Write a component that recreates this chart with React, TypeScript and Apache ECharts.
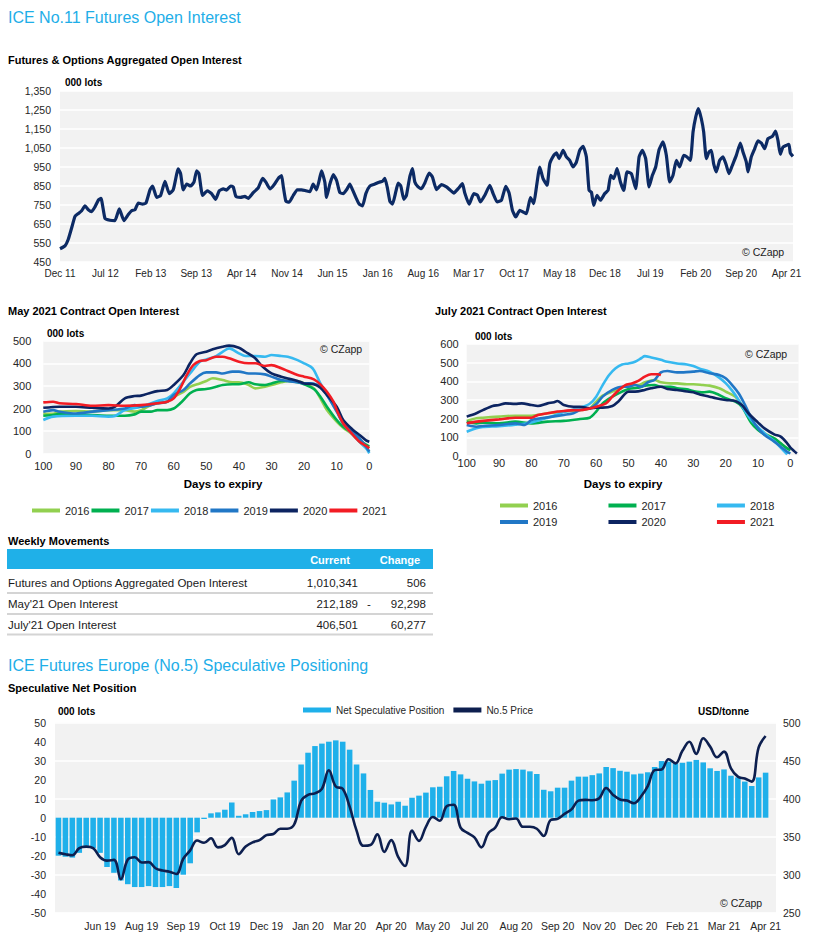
import React, { useEffect, useRef } from 'react';
import * as echarts from 'echarts';

const FONT = '"Liberation Sans", Arial, Helvetica, sans-serif';
const TITLE_BLUE = '#1eaee8';
const BG = '#f2f2f2';
const LABEL = '#262626';

// ---------- Top chart: Futures & Options Aggregated Open Interest (000 lots) ----------
// x = months since Dec 2011
const topTickLabels = ['Dec 11', 'Jul 12', 'Feb 13', 'Sep 13', 'Apr 14', 'Nov 14', 'Jun 15', 'Jan 16', 'Aug 16',
  'Mar 17', 'Oct 17', 'May 18', 'Dec 18', 'Jul 19', 'Feb 20', 'Sep 20', 'Apr 21'];
const oiSeries: [number, number][] = [
  [0, 520], [0.77, 535], [1.28, 570], [1.8, 630], [2.31, 690], [2.82, 705], [3.34, 720], [3.85, 745], [4.37, 725],
  [4.88, 715], [5.39, 740], [5.9, 775], [6.32, 785], [6.93, 680], [7.7, 670], [8.47, 668], [9.14, 730], [9.86, 668],
  [10.53, 700], [11.04, 720], [11.56, 725], [12.07, 760], [12.74, 755], [13.25, 760], [13.87, 830], [14.28, 850],
  [14.9, 790], [15.51, 800], [16.18, 875], [16.85, 810], [17.46, 830], [18.23, 940], [18.59, 915], [19, 830],
  [19.52, 860], [20.13, 850], [20.65, 870], [21.06, 930], [21.42, 915], [21.98, 800], [22.7, 825], [23.37, 810],
  [23.99, 780], [24.55, 825], [25.17, 835], [25.68, 828], [26.3, 850], [26.71, 845], [27.12, 795], [27.84, 790],
  [28.5, 795], [29.02, 785], [29.79, 815], [30.56, 840], [31.23, 890], [31.74, 870], [32.36, 835], [32.97, 855],
  [33.64, 890], [34.16, 905], [34.41, 850], [34.82, 770], [35.34, 765], [35.95, 800], [36.57, 830], [37.24, 830],
  [37.9, 825], [38.52, 820], [39.03, 860], [39.55, 830], [39.96, 880], [40.32, 930], [40.83, 870], [41.09, 790],
  [41.6, 860], [42.12, 910], [42.63, 880], [43.14, 815], [43.66, 810], [44.27, 835], [44.68, 860], [45.1, 830],
  [45.61, 790], [46.12, 755], [46.64, 745], [47.15, 810], [47.77, 850], [48.54, 860], [49.2, 870], [49.72, 875],
  [50.08, 890], [50.44, 845], [50.85, 770], [51.26, 755], [51.77, 820], [52.13, 865], [52.54, 850], [53, 780],
  [53.4, 800], [53.93, 900], [54.34, 941], [54.7, 871], [55.21, 845], [55.73, 836], [56.24, 866], [56.91, 918],
  [57.42, 897], [58.04, 831], [58.81, 857], [59.58, 845], [60.2, 827], [60.71, 813], [61.38, 836], [62.04, 862],
  [62.4, 813], [63.07, 754], [63.79, 810], [64.36, 801], [64.82, 766], [65.49, 801], [66.26, 854], [66.77, 810],
  [67.39, 766], [68.05, 775], [68.72, 848], [69.23, 813], [69.75, 722], [70.26, 687], [70.88, 722], [71.39, 713],
  [71.9, 704], [72.52, 789], [73.03, 757], [73.45, 845], [73.96, 950], [74.47, 889], [75.09, 854], [75.5, 967],
  [76.12, 1011], [76.53, 1024], [76.94, 994], [77.56, 1038], [78.07, 1003], [78.58, 985], [79.09, 950], [79.61, 976],
  [80.12, 1038], [80.64, 1059], [81.15, 1003], [81.56, 827], [81.92, 818], [82.28, 748], [82.79, 801], [83.31, 775],
  [83.98, 810], [84.49, 827], [84.9, 906], [85.36, 889], [85.88, 941], [86.39, 871], [86.9, 827], [87.42, 924],
  [88.09, 915], [88.75, 836], [89.27, 1003], [89.78, 1038], [90.29, 994], [90.81, 845], [91.32, 906], [91.83, 950],
  [92.35, 1041], [92.96, 1082], [93.48, 1011], [93.99, 871], [94.5, 906], [95.02, 985], [95.53, 950], [96.15, 1011],
  [96.66, 1003], [97.18, 985], [97.59, 1134], [98, 1213], [98.41, 1257], [98.87, 1204], [99.23, 1134], [99.64, 994],
  [100.05, 1029], [100.41, 1038], [100.77, 967], [101.18, 924], [101.69, 985], [102.21, 1003], [102.72, 959],
  [103.13, 915], [103.65, 959], [104.26, 1011], [104.88, 1076], [105.29, 1029], [105.8, 976], [106.06, 924],
  [106.57, 1003], [107.09, 1046], [107.6, 1087], [108.12, 1076], [108.63, 1046], [109.14, 1099], [109.81, 1111],
  [110.32, 1139], [110.68, 1090], [111.04, 1017], [111.45, 1055], [111.97, 1064], [112.38, 1069], [112.58, 1024],
  [112.99, 1006],
];

// ---------- May 2021 contract: [days to expiry, 000 lots] ----------
const may2016: [number, number][] = [[100, 178], [97, 176], [95, 186], [90, 189], [85, 186], [80, 193], [75, 193], [72, 186], [70, 193], [67, 215], [65, 223], [62, 230], [60, 252], [57, 274], [55, 296], [52, 311], [50, 322], [48, 334], [45, 326], [42, 316], [40, 316], [37, 304], [35, 289], [32, 296], [30, 304], [27, 316], [25, 322], [22, 322], [20, 311], [17, 289], [15, 245], [13, 193], [10, 142], [8, 115], [5, 83], [3, 53], [1, 27], [0, 9]];
const may2017: [number, number][] = [[100, 168], [97, 171], [95, 176], [90, 174], [85, 171], [80, 168], [75, 168], [72, 174], [70, 186], [67, 186], [65, 193], [62, 193], [60, 200], [58, 223], [55, 267], [53, 282], [50, 286], [47, 296], [45, 304], [42, 307], [40, 307], [37, 316], [35, 307], [32, 304], [30, 311], [27, 322], [25, 322], [22, 316], [20, 307], [17, 286], [15, 252], [13, 208], [10, 149], [8, 119], [5, 90], [3, 60], [1, 40], [0, 31]];
const may2018: [number, number][] = [[100, 149], [97, 164], [90, 168], [85, 168], [80, 164], [78, 167], [75, 193], [70, 208], [65, 233], [62, 245], [60, 267], [57, 319], [55, 355], [52, 407], [50, 417], [47, 432], [45, 451], [43, 466], [40, 444], [38, 432], [35, 432], [32, 429], [30, 437], [27, 432], [25, 429], [22, 414], [20, 400], [18, 385], [17, 370], [15, 311], [13, 260], [10, 193], [8, 134], [5, 83], [3, 53], [1, 24], [0, 2]];
const may2019: [number, number][] = [[100, 186], [97, 193], [95, 186], [90, 178], [85, 186], [80, 193], [75, 200], [72, 215], [70, 208], [67, 215], [65, 223], [62, 230], [60, 260], [57, 282], [55, 311], [52, 348], [50, 360], [47, 360], [45, 355], [42, 363], [40, 363], [37, 355], [35, 355], [32, 351], [30, 341], [27, 326], [25, 322], [22, 316], [20, 311], [18, 311], [15, 296], [13, 260], [10, 186], [8, 134], [5, 97], [3, 68], [1, 31], [0, 9]];
const may2020: [number, number][] = [[100, 203], [95, 208], [90, 208], [85, 203], [80, 200], [78, 208], [75, 245], [72, 255], [70, 257], [67, 270], [65, 277], [62, 282], [60, 304], [57, 348], [55, 400], [53, 440], [50, 451], [48, 462], [45, 473], [43, 478], [40, 469], [38, 451], [35, 422], [33, 389], [30, 355], [27, 341], [25, 333], [22, 322], [20, 311], [17, 307], [15, 292], [13, 260], [10, 208], [8, 149], [5, 105], [3, 83], [1, 59], [0, 53]];
const may2021: [number, number][] = [[100, 227], [97, 230], [95, 223], [90, 220], [85, 212], [80, 215], [75, 212], [70, 215], [65, 223], [62, 230], [60, 245], [58, 289], [56, 348], [54, 392], [52, 410], [50, 414], [47, 429], [45, 429], [43, 422], [40, 407], [37, 400], [35, 400], [32, 388], [30, 392], [27, 378], [25, 366], [22, 348], [20, 341], [17, 329], [15, 307], [13, 274], [11, 230], [10, 193], [8, 134], [5, 83], [3, 53], [1, 35], [0, 24]];

// ---------- July 2021 contract ----------
const jul2016: [number, number][] = [[100, 188], [97, 202], [95, 205], [90, 211], [85, 216], [80, 216], [75, 229], [70, 238], [65, 246], [62, 255], [60, 291], [58, 323], [55, 345], [52, 366], [50, 380], [47, 380], [45, 395], [42, 407], [40, 395], [37, 389], [35, 389], [32, 384], [30, 384], [27, 380], [25, 377], [22, 363], [20, 345], [17, 318], [15, 273], [12, 184], [10, 148], [8, 121], [5, 95], [3, 68], [1, 41], [0, 32]];
const jul2017: [number, number][] = [[100, 184], [97, 175], [95, 179], [90, 175], [85, 184], [80, 175], [75, 184], [70, 188], [65, 198], [62, 205], [60, 238], [58, 282], [55, 318], [52, 345], [50, 359], [47, 366], [45, 377], [42, 380], [40, 371], [37, 371], [35, 363], [32, 357], [30, 348], [27, 341], [25, 345], [22, 327], [20, 309], [17, 291], [15, 264], [12, 175], [10, 139], [8, 116], [5, 95], [3, 68], [1, 41], [0, 32]];
const jul2018: [number, number][] = [[100, 130], [97, 148], [95, 155], [90, 160], [85, 168], [80, 180], [75, 205], [70, 235], [65, 260], [62, 280], [60, 318], [58, 380], [56, 434], [54, 470], [52, 490], [50, 496], [48, 505], [46, 525], [45, 535], [43, 528], [40, 515], [38, 505], [35, 496], [32, 490], [30, 482], [28, 468], [25, 452], [22, 420], [20, 390], [18, 350], [16, 300], [14, 240], [12, 190], [10, 155], [8, 122], [5, 80], [3, 45], [1, 9]];
const jul2019: [number, number][] = [[100, 166], [97, 157], [95, 161], [90, 166], [85, 175], [82, 166], [80, 193], [75, 207], [70, 220], [67, 229], [65, 246], [62, 255], [60, 277], [58, 318], [55, 354], [52, 371], [50, 371], [48, 380], [46, 371], [44, 395], [42, 407], [40, 448], [38, 455], [35, 448], [33, 448], [30, 452], [28, 455], [25, 443], [22, 434], [20, 416], [18, 380], [16, 336], [14, 273], [12, 202], [10, 148], [8, 113], [5, 77], [3, 50], [1, 23], [0, 14]];
const jul2020: [number, number][] = [[100, 211], [97, 229], [95, 246], [92, 268], [90, 273], [88, 282], [85, 279], [83, 282], [80, 273], [78, 268], [75, 282], [73, 288], [72, 295], [70, 273], [67, 264], [65, 264], [62, 255], [60, 259], [58, 259], [55, 268], [53, 295], [50, 345], [48, 345], [45, 354], [43, 363], [40, 371], [38, 359], [35, 354], [33, 348], [30, 341], [28, 330], [25, 318], [23, 309], [20, 300], [17, 295], [15, 273], [13, 229], [10, 179], [8, 148], [5, 116], [3, 104], [1, 68], [0, 45], [-2, 14]];
const jul2021: [number, number][] = [[100, 175], [97, 184], [95, 188], [90, 196], [85, 205], [80, 205], [78, 220], [75, 229], [72, 238], [70, 241], [67, 246], [65, 246], [62, 255], [60, 264], [57, 282], [55, 318], [53, 354], [51, 380], [49, 389], [47, 402], [45, 425], [43, 438], [41, 438], [40, 434]];

const yearNames = ['2016', '2017', '2018', '2019', '2020', '2021'];
const yearColors = ['#92d050', '#00b050', '#36b9f0', '#2177c6', '#0c2461', '#f21c24'];
const maySeries = [may2016, may2017, may2018, may2019, may2020, may2021];
const julSeries = [jul2016, jul2017, jul2018, jul2019, jul2020, jul2021];

// ---------- Weekly movements table ----------
const tableRows = [
  { label: 'Futures and Options Aggregated Open Interest', current: '1,010,341', sign: '', change: '506' },
  { label: "May'21 Open Interest", current: '212,189', sign: '-', change: '92,298' },
  { label: "July'21 Open Interest", current: '406,501', sign: '', change: '60,277' },
];

// ---------- Speculative positioning (weekly, from 14 May 2019) ----------
const specStartUTC = Date.UTC(2019, 4, 14);
const specCategoryCount = 104;
const netSpec = [
  -20, -20.5, -21, -18.5, -16, -16, -18.5, -26, -29, -33, -35, -36.5, -36.5, -36, -36.5, -36.5, -36, -37, -30, -24, -7.7, -0.7, 2.3, 2.8, 4.2, 8,
  1, 1.8, 3, 3.5, 4, 9.6, 10.7, 13.3, 19.5, 28, 34.2, 37.7, 39, 40, 40.7, 40, 35.8, 28, 23.3, 14.6, 8.4, 7.9, 7, 8.4, 6.3, 10.5,
  11.6, 13.2, 16, 16.3, 21.8, 24.6, 22.8, 20.5, 19.1, 17.9, 19.5, 19.8, 23.2, 25.3, 25.6, 25.3, 24.4, 23, 14.7, 13.9, 15.8, 15.8, 19.5, 21.6, 21.6, 22.4,
  23.3, 26.7, 26.1, 24.7, 24.2, 22.8, 23.2, 23.9, 26.7, 29.8, 29.5, 28.6, 28.9, 29.5, 30.4, 29.1, 26, 24.6, 25.4, 22.1, 21.2, 19, 16.7, 21.2, 23.7,
];
const no5Price = [
  329, 327, 325.5, 335, 337, 335, 323, 318.5, 319.5, 294, 320, 323, 316, 316.5, 308.5, 305.5, 304, 301, 321, 332, 345, 342, 348, 336, 339, 348.5,
  327, 337, 342.5, 345.5, 352, 353.5, 360.5, 360.5, 366, 397, 405, 407, 413, 437.5, 416, 413, 389.5, 358, 338, 339, 353, 330, 345.5, 323.5, 311.5, 358,
  344.5, 363, 376, 371, 390, 392, 362, 355, 349, 336, 354.5, 362, 375.5, 373, 374, 363, 363, 360.5, 351, 372, 373.5, 380, 386, 397.5, 398.5, 398,
  400.5, 414, 405, 399, 397.5, 394, 402.5, 416.5, 437.5, 438.5, 452, 446.5, 463, 475, 459, 479.5, 468.5, 454.5, 462, 440, 429, 426.5, 422.5, 467.5, 482.5,
];
const MONTHS = ['Jan', 'Feb', 'Mar', 'Apr', 'May', 'Jun', 'Jul', 'Aug', 'Sep', 'Oct', 'Nov', 'Dec'];
const specWeeks = Array.from({ length: specCategoryCount }, (_, i) => {
  const d = new Date(specStartUTC + i * 7 * 86400000);
  return `${MONTHS[d.getUTCMonth()]} ${String(d.getUTCFullYear()).slice(2)}`;
});

function txt(x: number, y: number, text: string, o: any = {}) {
  const align = o.align || 'left';
  return {
    type: 'text', x, y, z: 20, silent: true,
    style: {
      text, fontFamily: FONT, fontSize: o.size || 11, fontWeight: o.weight || 'normal', fill: o.color || '#000',
      align, verticalAlign: 'middle', textAlign: align, textVerticalAlign: 'middle',
    },
  };
}

export default function App() {
  const ref = useRef<HTMLDivElement>(null);
  useEffect(() => {
    if (!ref.current) return;
    const chart = echarts.init(ref.current, null, { renderer: 'svg' });

    const axisLabelBase = { fontFamily: FONT, color: LABEL };
    const whiteSplit = { show: true, lineStyle: { color: '#ffffff', width: 1.5 } };
    const noAxis = { axisLine: { show: false }, axisTick: { show: false } };
    const gridBase = { show: true, backgroundColor: BG, borderWidth: 0, containLabel: false };

    const yearLine = (name: string, color: string, data: [number, number][], axis: number) => ({
      type: 'line', name, xAxisIndex: axis, yAxisIndex: axis, color, itemStyle: { color },
      data: data.map(([d, v]) => [-d, v]), showSymbol: false, symbol: 'none', smooth: 0.3,
      lineStyle: { color, width: 2.6 }, z: 3,
    });

    const graphics: any[] = [
      txt(8, 17, 'ICE No.11 Futures Open Interest', { size: 16, color: TITLE_BLUE }),
      txt(8, 60, 'Futures & Options Aggregated Open Interest', { size: 11, weight: 'bold' }),
      txt(65, 82.5, '000 lots', { size: 10, weight: 'bold' }),
      txt(742, 252, '© CZapp', { size: 10.5, color: '#222' }),

      txt(8, 310.7, 'May 2021 Contract Open Interest', { size: 11, weight: 'bold' }),
      txt(47, 333, '000 lots', { size: 10, weight: 'bold' }),
      txt(320, 349, '© CZapp', { size: 10.5, color: '#222' }),
      txt(223, 483.5, 'Days to expiry', { size: 11.5, weight: 'bold', align: 'center' }),

      txt(435, 310.7, 'July 2021 Contract Open Interest', { size: 11, weight: 'bold' }),
      txt(475, 336, '000 lots', { size: 10, weight: 'bold' }),
      txt(745, 353.5, '© CZapp', { size: 10.5, color: '#222' }),
      txt(623, 483.5, 'Days to expiry', { size: 11.5, weight: 'bold', align: 'center' }),

      txt(8, 541, 'Weekly Movements', { size: 11, weight: 'bold' }),
      { type: 'rect', z: 15, silent: true, shape: { x: 7, y: 549, width: 426, height: 20 }, style: { fill: '#1fb0e8' } },
      txt(330, 559.5, 'Current', { size: 11, weight: 'bold', color: '#ffffff', align: 'center' }),
      txt(400, 559.5, 'Change', { size: 11, weight: 'bold', color: '#ffffff', align: 'center' }),

      txt(8, 665, 'ICE Futures Europe (No.5) Speculative Positioning', { size: 16, color: TITLE_BLUE }),
      txt(8, 688, 'Speculative Net Position', { size: 11, weight: 'bold' }),
      txt(58, 711, '000 lots', { size: 10, weight: 'bold' }),
      txt(698, 711, 'USD/tonne', { size: 10, weight: 'bold' }),
      txt(720, 903, '© CZapp', { size: 10.5, color: '#222' }),
    ];
    const rowYs = [583, 603.5, 624.5];
    const sepYs = [593, 614, 634.5];
    tableRows.forEach((r, i) => {
      graphics.push(txt(8, rowYs[i], r.label, { size: 11.5, color: '#1a1a1a' }));
      graphics.push(txt(358, rowYs[i], r.current, { size: 11.5, color: '#1a1a1a', align: 'right' }));
      if (r.sign) graphics.push(txt(369, rowYs[i], r.sign, { size: 11.5, color: '#1a1a1a', align: 'center' }));
      graphics.push(txt(426, rowYs[i], r.change, { size: 11.5, color: '#1a1a1a', align: 'right' }));
      graphics.push({ type: 'line', z: 15, silent: true, shape: { x1: 7, y1: sepYs[i], x2: 433, y2: sepYs[i] }, style: { stroke: '#d4d4d4', lineWidth: 2 } });
    });

    const option: any = {
      animation: false,
      textStyle: { fontFamily: FONT },
      grid: [
        { ...gridBase, left: 60, top: 91, width: 733, height: 171 },
        { ...gridBase, left: 43.3, top: 340.7, width: 326, height: 113 },
        { ...gridBase, left: 466.7, top: 344, width: 331.8, height: 112 },
        { ...gridBase, left: 55, top: 722.7, width: 721, height: 190 },
      ],
      xAxis: [
        {
          type: 'value', gridIndex: 0, min: 0, max: 113, interval: 7, ...noAxis, splitLine: { show: false },
          axisLabel: {
            ...axisLabelBase, fontSize: 10, margin: 6,
            formatter: (v: number) => {
              const i = Math.round(v / 7);
              return Math.abs(v - i * 7) < 1e-6 && topTickLabels[i] ? topTickLabels[i] : '';
            },
          },
        },
        {
          type: 'value', gridIndex: 1, min: -100, max: 0, interval: 10, ...noAxis, splitLine: { show: false },
          axisLabel: { ...axisLabelBase, fontSize: 11, margin: 7, formatter: (v: number) => (Math.round(v) % 10 === 0 ? String(Math.abs(Math.round(v))) : '') },
        },
        {
          type: 'value', gridIndex: 2, min: -100, max: 2.5, interval: 10, ...noAxis, splitLine: { show: false },
          axisLabel: { ...axisLabelBase, fontSize: 11, margin: 1, formatter: (v: number) => (Math.abs(v - Math.round(v)) < 1e-6 && Math.round(v) % 10 === 0 ? String(Math.abs(Math.round(v))) : '') },
        },
        {
          type: 'category', gridIndex: 3, data: specWeeks, boundaryGap: true, ...noAxis, splitLine: { show: false },
          axisLabel: { ...axisLabelBase, fontSize: 10.5, margin: 8, interval: (idx: number) => idx > 0 && idx % 6 === 0 },
        },
      ],
      yAxis: [
        {
          type: 'value', gridIndex: 0, min: 450, max: 1350, interval: 100, ...noAxis, splitLine: whiteSplit,
          axisLabel: { ...axisLabelBase, fontSize: 10.5, margin: 9, formatter: (v: number) => v.toLocaleString('en-US') },
        },
        {
          type: 'value', gridIndex: 1, min: 0, max: 500, interval: 100, ...noAxis, splitLine: whiteSplit,
          axisLabel: { ...axisLabelBase, fontSize: 11, margin: 12 },
        },
        {
          type: 'value', gridIndex: 2, min: 0, max: 600, interval: 100, ...noAxis, splitLine: whiteSplit,
          axisLabel: { ...axisLabelBase, fontSize: 11, margin: 8 },
        },
        {
          type: 'value', gridIndex: 3, min: -50, max: 50, interval: 10, ...noAxis, splitLine: { show: false },
          axisLabel: { ...axisLabelBase, fontSize: 10.5, margin: 9 },
        },
        {
          type: 'value', gridIndex: 3, position: 'right', min: 250, max: 500, interval: 50, ...noAxis, splitLine: whiteSplit,
          axisLabel: { ...axisLabelBase, fontSize: 10.5, margin: 7 },
        },
      ],
      legend: [
        {
          left: 32, top: 505, padding: 0, itemGap: 2, itemWidth: 28, itemHeight: 4, icon: 'rect',
          data: yearNames, textStyle: { fontFamily: FONT, fontSize: 11, color: LABEL }, selectedMode: false,
        },
        {
          left: 500, top: 500, padding: 0, itemGap: 51, itemWidth: 28, itemHeight: 4, icon: 'rect',
          data: yearNames.slice(0, 3), textStyle: { fontFamily: FONT, fontSize: 11, color: LABEL }, selectedMode: false,
        },
        {
          left: 500, top: 516.5, padding: 0, itemGap: 51, itemWidth: 28, itemHeight: 4, icon: 'rect',
          data: yearNames.slice(3), textStyle: { fontFamily: FONT, fontSize: 11, color: LABEL }, selectedMode: false,
        },
        {
          left: 303, top: 705, padding: 0, itemGap: 9, itemWidth: 28, itemHeight: 5, icon: 'rect',
          data: ['Net Speculative Position', 'No.5 Price'], textStyle: { fontFamily: FONT, fontSize: 10, color: LABEL }, selectedMode: false,
        },
      ],
      series: [
        {
          type: 'line', name: 'Open Interest', xAxisIndex: 0, yAxisIndex: 0, data: oiSeries, showSymbol: false, symbol: 'none',
          smooth: 0.15, color: '#0c2a64', lineStyle: { color: '#0c2a64', width: 3.2 },
        },
        ...maySeries.map((d, i) => yearLine(yearNames[i], yearColors[i], d, 1)),
        ...julSeries.map((d, i) => yearLine(yearNames[i], yearColors[i], d, 2)),
        {
          type: 'bar', name: 'Net Speculative Position', xAxisIndex: 3, yAxisIndex: 3, data: netSpec, barWidth: '80%',
          color: '#1fb0ea', itemStyle: { color: '#1fb0ea' }, z: 2,
        },
        {
          type: 'line', name: 'No.5 Price', xAxisIndex: 3, yAxisIndex: 4, data: no5Price, showSymbol: false, symbol: 'none',
          smooth: 0.4, color: '#0d1f4f', itemStyle: { color: '#0d1f4f' }, lineStyle: { color: '#0d1f4f', width: 2.6 }, z: 4,
        },
      ],
      graphic: graphics,
    };
    chart.setOption(option);
    return () => chart.dispose();
  }, []);

  return <div ref={ref} style={{ position: 'absolute', left: 0, top: 0, width: 819, height: 947, background: '#fff' }} />;
}
